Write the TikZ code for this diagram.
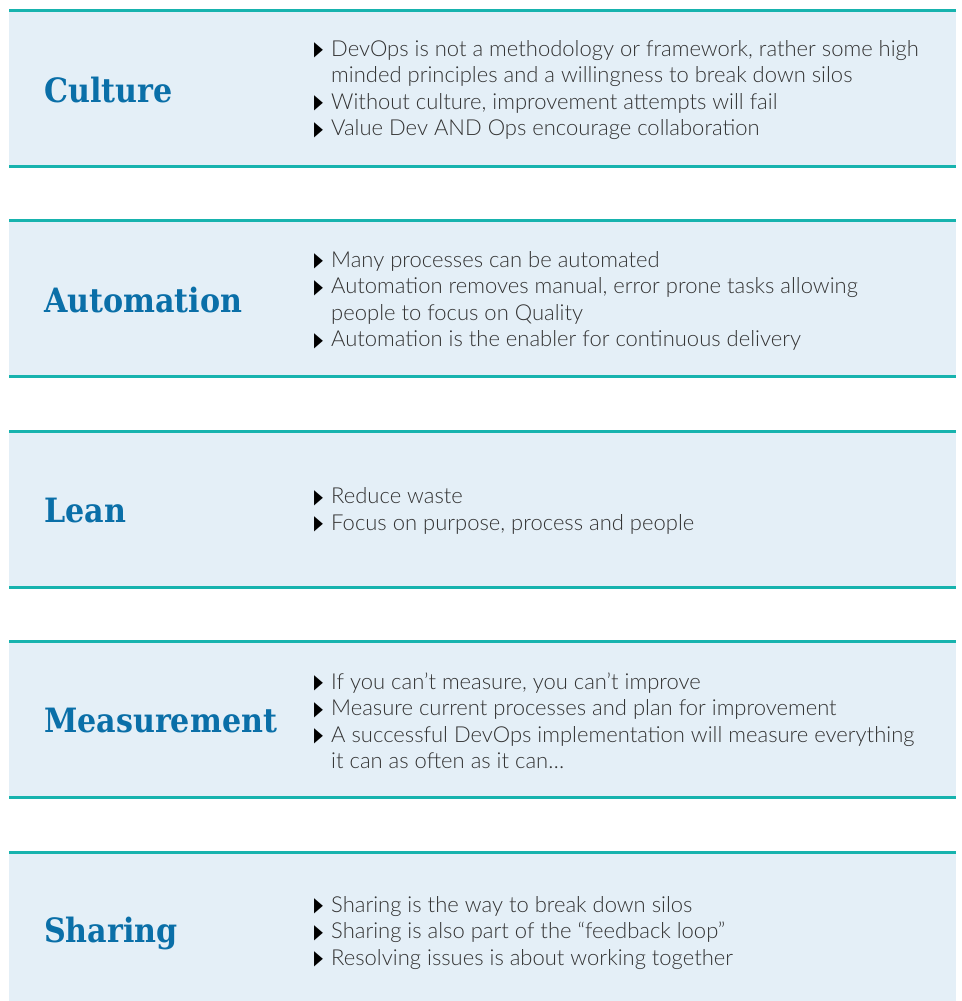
\documentclass[tikz,border=0pt]{standalone}
\usepackage{fontspec}
\setmainfont{Lato Light}
\newfontfamily\titlefont{DejaVu Serif Condensed}
\newfontfamily\symfont{DejaVu Sans}
\definecolor{panelbg}{HTML}{E4EFF7}
\definecolor{rulecol}{HTML}{17B3AE}
\definecolor{titleblue}{HTML}{0A6FA8}
\definecolor{bodygrey}{HTML}{333333}
\newcommand\bul{\makebox[17pt][l]{\raisebox{0.5pt}{\symfont\fontsize{20}{20}\selectfont\color{black}\scalebox{0.58}[1]{▶}}}}
\newcommand\ind{\hspace*{17pt}}
\begin{document}
\begin{tikzpicture}[x=1pt,y=-1pt,
  panel/.style={fill=panelbg, draw=none, minimum width=947pt, minimum height=156pt, inner sep=0pt, outer sep=0pt},
  rulestyle/.style={draw=rulecol, line width=3pt},
  titlestyle/.style={anchor=west, inner sep=0pt, text=titleblue, font=\titlefont\bfseries\fontsize{33.5}{33.5}\selectfont},
  bodystyle/.style={anchor=west, inner sep=0pt, align=left, text=bodygrey, font=\fontsize{22}{26.5}\selectfont}]
\useasboundingbox (0,0) rectangle (961,1001);
\node[panel] (p1) at (482.5,88) {};
\node[panel] (p2) at (482.5,298.5) {};
\node[panel] (p3) at (482.5,509) {};
\node[panel] (p4) at (482.5,719.5) {};
\node[panel] (p5) at (482.5,930) {};
\foreach \p in {p1,p2,p3,p4,p5}{
  \draw[rulestyle] (\p.north west) -- (\p.north east);
  \draw[rulestyle] (\p.south west) -- (\p.south east);
}
\node[titlestyle] (t1) at (44,90) {Culture};
\node[titlestyle] (t2) at (44,300) {Automation};
\node[titlestyle] (t3) at (44,511) {Lean};
\node[titlestyle] (t4) at (44,721) {Measurement};
\node[titlestyle] (t5) at (44,933) {Sharing};
\node[bodystyle] (b1) at (314,90) {\bul DevOps is not a methodology or framework, rather some high\\ \ind minded principles and a willingness to break down silos\\ \bul Without culture, improvement attempts will fail\\ \bul Value Dev AND Ops encourage collaboration};
\node[bodystyle] (b2) at (314,301) {\bul Many processes can be automated\\ \bul Automation removes manual, error prone tasks allowing\\ \ind people to focus on Quality\\ \bul Automation is the enabler for continuous delivery};
\node[bodystyle] (b3) at (314,511) {\bul Reduce waste\\ \bul Focus on purpose, process and people};
\node[bodystyle] (b4) at (314,721) {\bul If you can’t measure, you can’t improve\\ \bul Measure current processes and plan for improvement\\ \bul A successful DevOps implementation will measure everything\\ \ind it can as often as it can…};
\node[bodystyle] (b5) at (314,933) {\bul Sharing is the way to break down silos\\ \bul Sharing is also part of the “feedback loop”\\ \bul Resolving issues is about working together};
\end{tikzpicture}
\end{document}
